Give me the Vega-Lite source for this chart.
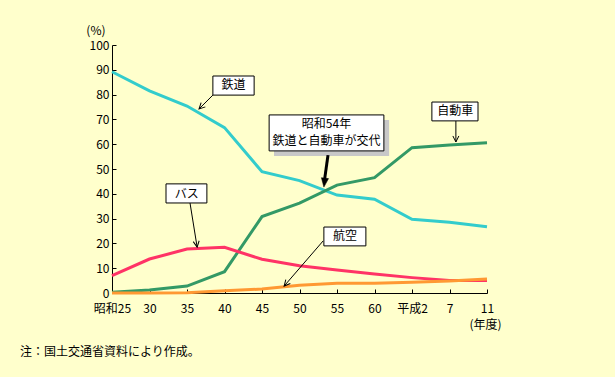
{
  "$schema": "https://vega.github.io/schema/vega-lite/v6.json",
  "width": 375,
  "height": 248,
  "autosize": "none",
  "padding": {"left": 112, "top": 45, "right": 128, "bottom": 84},
  "background": "#FFFFCC",
  "title": {
    "text": "注：国土交通省資料により作成。",
    "orient": "bottom",
    "anchor": "start",
    "frame": "group",
    "dx": -92,
    "offset": 17,
    "fontSize": 12,
    "fontWeight": "normal",
    "font": "Noto Sans CJK JP",
    "color": "#000000"
  },
  "config": {
    "view": {"stroke": null},
    "font": "Noto Sans CJK JP",
    "axis": {
      "domainColor": "#000000",
      "tickColor": "#000000",
      "labelColor": "#000000",
      "titleColor": "#000000",
      "labelFontSize": 12,
      "titleFontSize": 12,
      "titleFontWeight": "normal",
      "grid": false,
      "labelOverlap": false,
      "labelFont": "Noto Sans CJK JP",
      "titleFont": "Noto Sans CJK JP"
    }
  },
  "datasets": {
    "series": [
      {"idx": 0, "year": "昭和25", "mode": "鉄道", "value": 89.2},
      {"idx": 1, "year": "30", "mode": "鉄道", "value": 81.5},
      {"idx": 2, "year": "35", "mode": "鉄道", "value": 75.4},
      {"idx": 3, "year": "40", "mode": "鉄道", "value": 66.7},
      {"idx": 4, "year": "45", "mode": "鉄道", "value": 48.9},
      {"idx": 5, "year": "50", "mode": "鉄道", "value": 45.3},
      {"idx": 6, "year": "55", "mode": "鉄道", "value": 39.5},
      {"idx": 7, "year": "60", "mode": "鉄道", "value": 37.8},
      {"idx": 8, "year": "平成2", "mode": "鉄道", "value": 29.7},
      {"idx": 9, "year": "7", "mode": "鉄道", "value": 28.5},
      {"idx": 10, "year": "11", "mode": "鉄道", "value": 26.7},
      {"idx": 0, "year": "昭和25", "mode": "自動車", "value": 0.3},
      {"idx": 1, "year": "30", "mode": "自動車", "value": 1.2},
      {"idx": 2, "year": "35", "mode": "自動車", "value": 2.8},
      {"idx": 3, "year": "40", "mode": "自動車", "value": 8.6},
      {"idx": 4, "year": "45", "mode": "自動車", "value": 30.8},
      {"idx": 5, "year": "50", "mode": "自動車", "value": 36.2},
      {"idx": 6, "year": "55", "mode": "自動車", "value": 43.5},
      {"idx": 7, "year": "60", "mode": "自動車", "value": 46.5},
      {"idx": 8, "year": "平成2", "mode": "自動車", "value": 58.6},
      {"idx": 9, "year": "7", "mode": "自動車", "value": 59.7},
      {"idx": 10, "year": "11", "mode": "自動車", "value": 60.6},
      {"idx": 0, "year": "昭和25", "mode": "バス", "value": 7.0},
      {"idx": 1, "year": "30", "mode": "バス", "value": 13.7},
      {"idx": 2, "year": "35", "mode": "バス", "value": 17.7},
      {"idx": 3, "year": "40", "mode": "バス", "value": 18.4},
      {"idx": 4, "year": "45", "mode": "バス", "value": 13.6},
      {"idx": 5, "year": "50", "mode": "バス", "value": 11.0},
      {"idx": 6, "year": "55", "mode": "バス", "value": 9.3},
      {"idx": 7, "year": "60", "mode": "バス", "value": 7.7},
      {"idx": 8, "year": "平成2", "mode": "バス", "value": 6.2},
      {"idx": 9, "year": "7", "mode": "バス", "value": 5.0},
      {"idx": 10, "year": "11", "mode": "バス", "value": 5.0},
      {"idx": 0, "year": "昭和25", "mode": "航空", "value": 0.0},
      {"idx": 1, "year": "30", "mode": "航空", "value": 0.0},
      {"idx": 2, "year": "35", "mode": "航空", "value": 0.1},
      {"idx": 3, "year": "40", "mode": "航空", "value": 0.9},
      {"idx": 4, "year": "45", "mode": "航空", "value": 1.6},
      {"idx": 5, "year": "50", "mode": "航空", "value": 3.1},
      {"idx": 6, "year": "55", "mode": "航空", "value": 3.9},
      {"idx": 7, "year": "60", "mode": "航空", "value": 3.9},
      {"idx": 8, "year": "平成2", "mode": "航空", "value": 4.3},
      {"idx": 9, "year": "7", "mode": "航空", "value": 4.8},
      {"idx": 10, "year": "11", "mode": "航空", "value": 5.6}
    ],
    "shadow": [
      {"idx": 4.32, "idx2": 7.39, "value": 69.8, "value2": 55.2}
    ],
    "boxes": [
      {"name": "鉄道", "idx": 2.69, "idx2": 3.79, "value": 87.5, "value2": 79.8},
      {"name": "バス", "idx": 1.44, "idx2": 2.53, "value": 44.0, "value2": 36.3},
      {"name": "航空", "idx": 5.65, "idx2": 6.77, "value": 26.6, "value2": 19.0},
      {"name": "自動車", "idx": 8.53, "idx2": 9.76, "value": 77.0, "value2": 69.4},
      {"name": "交代", "idx": 4.19, "idx2": 7.25, "value": 71.8, "value2": 57.3}
    ],
    "texts": [
      {"text": "鉄道", "idx": 3.24, "value": 83.7},
      {"text": "バス", "idx": 1.99, "value": 40.1},
      {"text": "航空", "idx": 6.21, "value": 22.8},
      {"text": "自動車", "idx": 9.15, "value": 73.2},
      {"text": "昭和54年", "idx": 5.72, "value": 68.1},
      {"text": "鉄道と自動車が交代", "idx": 5.72, "value": 61.3}
    ],
    "leaders": [
      {"idx": 2.69, "value": 79.8, "idx2": 2.32, "value2": 74.2},
      {"idx": 2.08, "value": 36.3, "idx2": 2.27, "value2": 18.5},
      {"idx": 5.63, "value": 21.0, "idx2": 4.59, "value2": 2.8},
      {"idx": 9.17, "value": 69.4, "idx2": 9.17, "value2": 60.9}
    ],
    "heads": [
      {"idx": 2.32, "value": 74.2, "angle": 45},
      {"idx": 2.27, "value": 18.5, "angle": -9},
      {"idx": 4.59, "value": 2.8, "angle": 41},
      {"idx": 9.17, "value": 60.9, "angle": 0}
    ],
    "mainArrow": [
      {"idx": 5.76, "value": 55.6, "idx2": 5.66, "value2": 44.8}
    ],
    "mainHead": [
      {"idx": 5.65, "value": 42.7, "angle": 7}
    ]
  },
  "encoding": {
    "x": {
      "field": "idx",
      "type": "quantitative",
      "scale": {"domain": [0, 10], "nice": false, "zero": false},
      "axis": {
        "title": "(年度)",
        "values": [0, 1, 2, 3, 4, 5, 6, 7, 8, 9, 10],
        "tickCount": 11,
        "labelExpr": "['昭和25','30','35','40','45','50','55','60','平成2','7','11'][datum.value]",
        "tickSize": -4,
        "labelPadding": 14,
        "labelFlush": false,
        "labelOverlap": false,
        "labelBound": false,
        "titleAnchor": "end",
        "titleAlign": "right",
        "titleX": 389,
        "titleY": 35,
        "titleBaseline": "alphabetic"
      }
    },
    "y": {
      "field": "value",
      "type": "quantitative",
      "scale": {"domain": [0, 100], "nice": false},
      "axis": {
        "title": "(%)",
        "titleAngle": 0,
        "titleAlign": "right",
        "titleBaseline": "alphabetic",
        "titleX": -7,
        "titleY": -11,
        "values": [0, 10, 20, 30, 40, 50, 60, 70, 80, 90, 100],
        "tickCount": 11,
        "tickSize": -4,
        "labelPadding": 7,
        "labelFlush": false,
        "labelOverlap": false,
        "labelBound": false
      }
    }
  },
  "layer": [
    {
      "data": {"name": "series"},
      "mark": {"type": "line", "strokeWidth": 3, "clip": false},
      "encoding": {
        "color": {
          "field": "mode",
          "type": "nominal",
          "scale": {
            "domain": ["鉄道", "自動車", "バス", "航空"],
            "range": ["#33CCCC", "#339966", "#FF3366", "#FF9933"]
          },
          "legend": null
        },
        "order": {"field": "idx"}
      }
    },
    {
      "data": {"name": "shadow"},
      "mark": {"type": "rect", "fill": "#C8C8C8"},
      "encoding": {
        "x2": {"field": "idx2"},
        "y2": {"field": "value2"}
      }
    },
    {
      "data": {"name": "leaders"},
      "mark": {"type": "rule", "color": "#000000", "strokeWidth": 1},
      "encoding": {
        "x2": {"field": "idx2"},
        "y2": {"field": "value2"}
      }
    },
    {
      "data": {"name": "heads"},
      "mark": {"type": "point", "shape": "M-0.5,-1L0,0L0.5,-1", "filled": false, "stroke": "#000000", "strokeWidth": 1, "size": 144, "opacity": 1},
      "encoding": {
        "angle": {"field": "angle", "type": "quantitative", "scale": null}
      }
    },
    {
      "data": {"name": "mainArrow"},
      "mark": {"type": "rule", "color": "#000000", "strokeWidth": 3},
      "encoding": {
        "x2": {"field": "idx2"},
        "y2": {"field": "value2"}
      }
    },
    {
      "data": {"name": "mainHead"},
      "mark": {"type": "point", "shape": "M-0.6,-1.5L0,0L0.6,-1.5Z", "filled": true, "fill": "#000000", "stroke": "#000000", "strokeWidth": 0.5, "size": 144, "opacity": 1},
      "encoding": {
        "angle": {"field": "angle", "type": "quantitative", "scale": null}
      }
    },
    {
      "data": {"name": "boxes"},
      "mark": {"type": "rect", "fill": "#FFFFFF", "stroke": "#000000", "strokeWidth": 1},
      "encoding": {
        "x2": {"field": "idx2"},
        "y2": {"field": "value2"}
      }
    },
    {
      "data": {"name": "texts"},
      "mark": {"type": "text", "fontSize": 12, "color": "#000000", "align": "center", "baseline": "middle", "font": "Noto Sans CJK JP"},
      "encoding": {
        "text": {"field": "text"}
      }
    }
  ]
}
